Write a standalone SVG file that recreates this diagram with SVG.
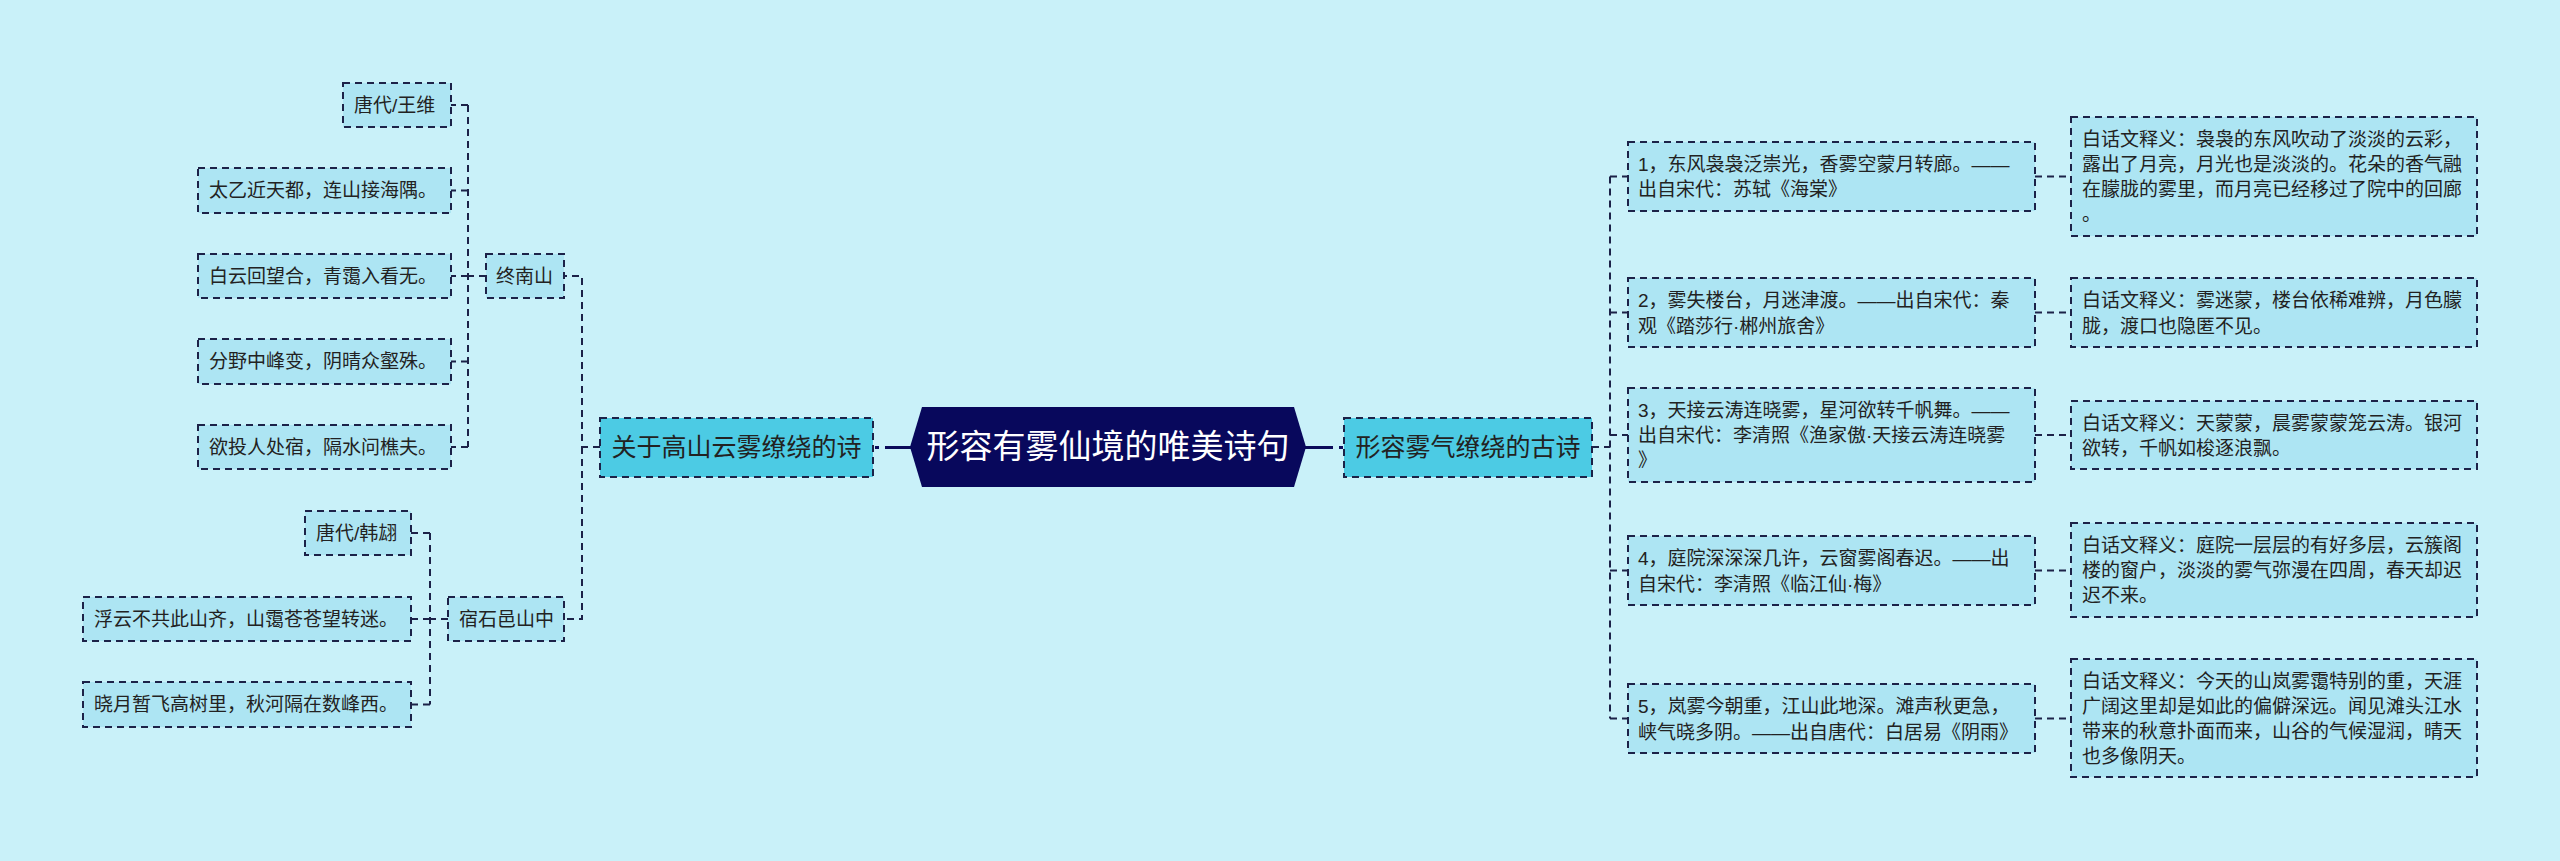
<svg xmlns="http://www.w3.org/2000/svg" width="2560" height="861" viewBox="0 0 2560 861">
<style>
.n rect{fill:#ade5f3;stroke:#1c2248;stroke-width:2;stroke-dasharray:7 5}
.l1 rect{fill:#4ccbe4;stroke:#1c2248;stroke-width:2;stroke-dasharray:7 5}
text{font-family:"Liberation Sans","Noto Sans CJK SC",sans-serif;fill:#222222}
.t{font-size:19px}
.t1{font-size:25px}
.tc{font-size:33px;fill:#ffffff}
.c{fill:none;stroke:#1c2248;stroke-width:2;stroke-dasharray:7 5}
.cm{fill:none;stroke:#0a0a5a;stroke-width:3}
</style>
<rect x="0" y="0" width="2560" height="861" fill="#c9f1f9"/>
<g id="connectors">
<path class="cm" d="M875 447.5 H879 M885 447.5 H912"/>
<path class="cm" d="M1304 447.5 H1333 M1339 447.5 H1343"/>
<path class="c" d="M600 447 H582 V276 H564 M582 447 V619 H564"/>
<path class="c" d="M486 276 H468 M468 105 V447 M468 105 H451 M468 190.5 H451 M468 276 H451 M468 361.5 H451 M468 447 H451"/>
<path class="c" d="M448 619 H430 M430 533 V704.5 M430 533 H411 M430 619 H411 M430 704.5 H411"/>
<path class="c" d="M1592 447 H1610 M1610 176.5 V718.5 M1610 176.5 H1628 M1610 312.5 H1628 M1610 435 H1628 M1610 570.5 H1628 M1610 718.5 H1628"/>
<path class="c" d="M2035 176.5 H2071 M2035 312.5 H2071 M2035 435 H2071 M2035 570.5 H2071 M2035 718.5 H2071"/>
</g>
<g id="root">
<polygon points="910,447 922,407 1294,407 1306,447 1294,487 922,487" fill="#08085c"/>
<text class="tc" x="1108" y="458" text-anchor="middle">形容有雾仙境的唯美诗句</text>
</g>
<g id="n_guanyu" class="l1"><rect x="600" y="418" width="273" height="59"/><text class="t1" x="736.5" y="456" text-anchor="middle">关于高山云雾缭绕的诗</text></g>
<g id="n_xingrong" class="l1"><rect x="1344" y="418" width="248" height="59"/><text class="t1" x="1468" y="456" text-anchor="middle">形容雾气缭绕的古诗</text></g>
<g id="n_zhongnan" class="n"><rect x="486" y="254" width="78" height="44"/><text class="t" x="496" y="283">终南山</text></g>
<g id="n_wangwei" class="n"><rect x="343" y="83" width="108" height="44"/><text class="t" x="354" y="112">唐代/王维</text></g>
<g id="n_taiyi" class="n"><rect x="198" y="168" width="253" height="45"/><text class="t" x="209" y="197">太乙近天都，连山接海隅。</text></g>
<g id="n_baiyun" class="n"><rect x="198" y="254" width="253" height="44"/><text class="t" x="209" y="283">白云回望合，青霭入看无。</text></g>
<g id="n_fenye" class="n"><rect x="198" y="339" width="253" height="45"/><text class="t" x="209" y="368">分野中峰变，阴晴众壑殊。</text></g>
<g id="n_yutou" class="n"><rect x="198" y="425" width="253" height="44"/><text class="t" x="209" y="454">欲投人处宿，隔水问樵夫。</text></g>
<g id="n_sushi" class="n"><rect x="448" y="597" width="116" height="44"/><text class="t" x="459" y="626">宿石邑山中</text></g>
<g id="n_hanhong" class="n"><rect x="305" y="511" width="106" height="44"/><text class="t" x="316" y="540">唐代/韩翃</text></g>
<g id="n_fuyun" class="n"><rect x="83" y="597" width="328" height="44"/><text class="t" x="94" y="626">浮云不共此山齐，山霭苍苍望转迷。</text></g>
<g id="n_xiaoyue" class="n"><rect x="83" y="682" width="328" height="45"/><text class="t" x="94" y="711">晓月暂飞高树里，秋河隔在数峰西。</text></g>
<g id="r1" class="n"><rect x="1628" y="142" width="407" height="69"/><text class="t" x="1638" y="170.5">1，东风袅袅泛崇光，香雾空蒙月转廊。——<tspan x="1638" y="196">出自宋代：苏轼《海棠》</tspan></text></g>
<g id="r2" class="n"><rect x="1628" y="278" width="407" height="69"/><text class="t" x="1638" y="307">2，雾失楼台，月迷津渡。——出自宋代：秦<tspan x="1638" y="332.5">观《踏莎行·郴州旅舍》</tspan></text></g>
<g id="r3" class="n"><rect x="1628" y="388" width="407" height="94"/><text class="t" x="1638" y="417">3，天接云涛连晓雾，星河欲转千帆舞。——<tspan x="1638" y="442">出自宋代：李清照《渔家傲·天接云涛连晓雾</tspan><tspan x="1638" y="467">》</tspan></text></g>
<g id="r4" class="n"><rect x="1628" y="536" width="407" height="69"/><text class="t" x="1638" y="565">4，庭院深深深几许，云窗雾阁春迟。——出<tspan x="1638" y="590.5">自宋代：李清照《临江仙·梅》</tspan></text></g>
<g id="r5" class="n"><rect x="1628" y="684" width="407" height="69"/><text class="t" x="1638" y="713">5，岚雾今朝重，江山此地深。滩声秋更急，<tspan x="1638" y="738.5">峡气晓多阴。——出自唐代：白居易《阴雨》</tspan></text></g>
<g id="e1" class="n"><rect x="2071" y="117" width="406" height="119"/><text class="t" x="2082" y="146">白话文释义：袅袅的东风吹动了淡淡的云彩，<tspan x="2082" y="171">露出了月亮，月光也是淡淡的。花朵的香气融</tspan><tspan x="2082" y="196">在朦胧的雾里，而月亮已经移过了院中的回廊</tspan><tspan x="2082" y="221">。</tspan></text></g>
<g id="e2" class="n"><rect x="2071" y="278" width="406" height="69"/><text class="t" x="2082" y="307">白话文释义：雾迷蒙，楼台依稀难辨，月色朦<tspan x="2082" y="332.5">胧，渡口也隐匿不见。</tspan></text></g>
<g id="e3" class="n"><rect x="2071" y="401" width="406" height="68"/><text class="t" x="2082" y="429.5">白话文释义：天蒙蒙，晨雾蒙蒙笼云涛。银河<tspan x="2082" y="454.5">欲转，千帆如梭逐浪飘。</tspan></text></g>
<g id="e4" class="n"><rect x="2071" y="523" width="406" height="94"/><text class="t" x="2082" y="552">白话文释义：庭院一层层的有好多层，云簇阁<tspan x="2082" y="577">楼的窗户，淡淡的雾气弥漫在四周，春天却迟</tspan><tspan x="2082" y="602">迟不来。</tspan></text></g>
<g id="e5" class="n"><rect x="2071" y="659" width="406" height="118"/><text class="t" x="2082" y="687.5">白话文释义：今天的山岚雾霭特别的重，天涯<tspan x="2082" y="712.5">广阔这里却是如此的偏僻深远。闻见滩头江水</tspan><tspan x="2082" y="737.5">带来的秋意扑面而来，山谷的气候湿润，晴天</tspan><tspan x="2082" y="762.5">也多像阴天。</tspan></text></g>
</svg>
